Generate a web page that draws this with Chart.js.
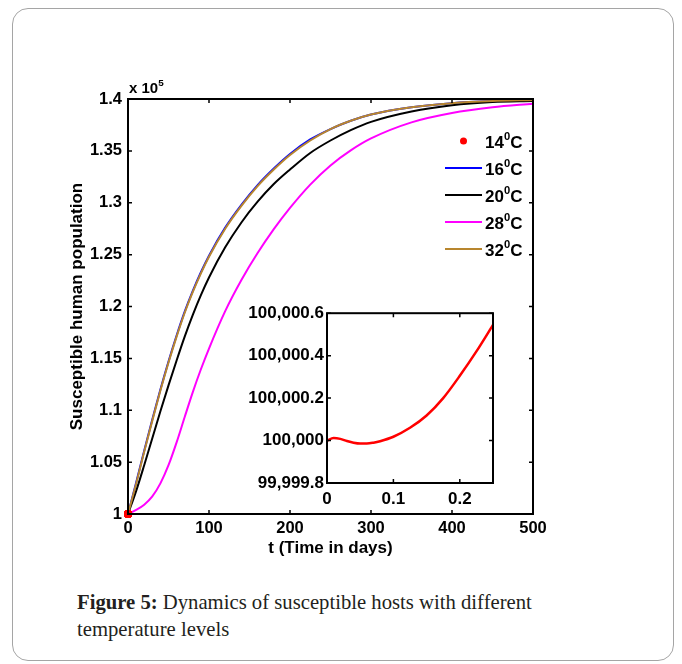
<!DOCTYPE html>
<html>
<head>
<meta charset="utf-8">
<script src="https://cdn.jsdelivr.net/npm/chart.js@4.4.1/dist/chart.umd.min.js"></script>
<style>
    body {
        margin: 0;
        background: #ffffff;
    }

    .card {
        position: absolute;
        left: 12px;
        top: 8px;
        width: 662px;
        height: 653px;
        box-sizing: border-box;
        border: 1.5px solid #a5a5a5;
        border-radius: 16px;
    }

    #main-chart {
        position: absolute;
        left: 0;
        top: 0;
    }

    #inset-chart {
        position: absolute;
        left: 230px;
        top: 300px;
    }

    .caption {
        position: absolute;
        left: 77px;
        top: 589px;
        font-family: "Liberation Serif", "Times New Roman", serif;
        font-size: 20.7px;
        line-height: 27px;
        color: #231f20;
    }
</style>
</head>
<body>
<div class="card"></div>
<canvas id="main-chart" width="682" height="570"></canvas>
<canvas id="inset-chart" width="280" height="210"></canvas>
<div class="caption"><b>Figure 5:</b> Dynamics of susceptible hosts with different<br>temperature levels</div>

<script>
"use strict";

const days = [0, 10, 20, 30, 40, 50, 60, 70, 80, 90, 100, 120, 140, 160, 180, 200, 225, 250, 275, 300, 350, 400, 450, 500];

const host16 = [1.000, 1.030, 1.061, 1.091, 1.120, 1.147, 1.172, 1.195, 1.215, 1.233, 1.249, 1.276, 1.298, 1.317, 1.333, 1.347, 1.361, 1.371, 1.379, 1.385, 1.392, 1.396, 1.398, 1.399];
const host20 = [1.000, 1.022, 1.047, 1.073, 1.099, 1.124, 1.148, 1.171, 1.192, 1.211, 1.228, 1.257, 1.281, 1.301, 1.318, 1.332, 1.348, 1.360, 1.370, 1.378, 1.388, 1.394, 1.397, 1.398];
const host28 = [1.000, 1.004, 1.009, 1.017, 1.0295, 1.047, 1.069, 1.0935, 1.1175, 1.1395, 1.1595, 1.1955, 1.2255, 1.2515, 1.2745, 1.295, 1.3175, 1.336, 1.3505, 1.362, 1.3775, 1.3865, 1.392, 1.3955];
const host32 = [1.000, 1.029, 1.060, 1.090, 1.119, 1.146, 1.171, 1.194, 1.214, 1.232, 1.248, 1.275, 1.297, 1.316, 1.332, 1.346, 1.360, 1.371, 1.379, 1.385, 1.392, 1.396, 1.398, 1.399];

// 14 graden: alleen de eerste kwart dag, zichtbaar in de inzet.
const insetDays = [0, 0.01, 0.02, 0.03, 0.04, 0.05, 0.06, 0.07, 0.08, 0.1, 0.125, 0.15, 0.175, 0.2, 0.225, 0.25];
const host14 = [100000.000, 100000.012, 100000.008, 99999.998, 99999.990, 99999.986, 99999.986, 99999.990, 99999.997, 100000.018, 100000.060, 100000.118, 100000.200, 100000.305, 100000.420, 100000.545];

const temperatures = ["14", "16", "20", "28", "32"];
const seriesColors = ["#ff0000", "#0000ff", "#000000", "#ff00ff", "#b8862e"];

const mainXTicks = [0, 100, 200, 300, 400, 500];
const mainXLabels = ["0", "100", "200", "300", "400", "500"];
const mainYTicks = [1, 1.05, 1.1, 1.15, 1.2, 1.25, 1.3, 1.35, 1.4];
const mainYLabels = ["1", "1.05", "1.1", "1.15", "1.2", "1.25", "1.3", "1.35", "1.4"];

const insetXTicks = [0, 0.1, 0.2];
const insetXLabels = ["0", "0.1", "0.2"];
const insetYTicks = [99999.8, 100000, 100000.2, 100000.4, 100000.6];
const insetYLabels = ["99,999.8", "100,000", "100,000.2", "100,000.4", "100,000.6"];

const fontFamily = "'Liberation Sans', Arial, sans-serif";
Chart.defaults.font.family = fontFamily;
Chart.defaults.font.weight = "bold";
Chart.defaults.color = "#000000";

function toPoints(xs, ys, scale) {
    return xs.map((x, i) => ({ x: x, y: ys[i] / scale }));
}

// Kader rond het plotgebied met naar binnen wijzende streepjes op alle vier de zijden (MATLAB-stijl).
const matlabBox = {
    id: "matlabBox",
    afterDatasetsDraw(chart, args, opts) {
        const ctx = chart.ctx;
        const a = chart.chartArea;
        const x = chart.scales.x;
        const y = chart.scales.y;

        ctx.save();
        ctx.strokeStyle = "#000000";
        ctx.lineWidth = 1.5;
        ctx.beginPath();
        x.ticks.forEach((t) => {
            const px = x.getPixelForValue(t.value);
            ctx.moveTo(px, a.bottom);
            ctx.lineTo(px, a.bottom - opts.tick);
            ctx.moveTo(px, a.top);
            ctx.lineTo(px, a.top + opts.tick);
        });
        y.ticks.forEach((t) => {
            const py = y.getPixelForValue(t.value);
            ctx.moveTo(a.left, py);
            ctx.lineTo(a.left + opts.tick, py);
            ctx.moveTo(a.right, py);
            ctx.lineTo(a.right - opts.tick, py);
        });
        ctx.stroke();

        ctx.lineWidth = opts.lineWidth;
        ctx.strokeRect(a.left, a.top, a.right - a.left, a.bottom - a.top);
        ctx.restore();
    }
};

// Tekst met een superscript, zoals 14^0C en x 10^5.
function drawSuperText(ctx, x, y, parts, size) {
    let cursor = x;
    parts.forEach((part) => {
        const fontSize = part.sup ? size * 0.66 : size;
        ctx.font = "bold " + fontSize + "px " + fontFamily;
        ctx.fillText(part.text, cursor, part.sup ? y - size * 0.45 : y);
        cursor += ctx.measureText(part.text).width;
    });
}

// Eigen legenda en de vermenigvuldigingsfactor boven de y-as.
const figureLegend = {
    id: "figureLegend",
    afterDraw(chart, args, opts) {
        const ctx = chart.ctx;
        const a = chart.chartArea;

        ctx.save();
        ctx.fillStyle = "#000000";
        ctx.textBaseline = "alphabetic";
        drawSuperText(ctx, a.left + 1, a.top - 6, [{ text: "x 10" }, { text: "5", sup: true }], 15);

        chart.data.datasets.forEach((ds, i) => {
            const rowY = opts.top + i * opts.rowGap;
            if (ds.showLine === false) {
                ctx.fillStyle = ds.pointBackgroundColor;
                ctx.beginPath();
                ctx.arc(opts.lineLeft + opts.lineWidth / 2, rowY, 3.5, 0, Math.PI * 2);
                ctx.fill();
            } else {
                ctx.strokeStyle = ds.borderColor;
                ctx.lineWidth = 2;
                ctx.beginPath();
                ctx.moveTo(opts.lineLeft, rowY);
                ctx.lineTo(opts.lineLeft + opts.lineWidth, rowY);
                ctx.stroke();
            }
            ctx.fillStyle = "#000000";
            drawSuperText(ctx, opts.textLeft, rowY + 7, [{ text: temperatures[i] }, { text: "0", sup: true }, { text: "C" }], 17);
        });
        ctx.restore();
    }
};

const lineSeries = [host16, host20, host28, host32];

// Lagere "order" wordt later (bovenop) getekend: goud over blauw, rode stip bovenaan.
const mainDatasets = [
    {
        label: temperatures[0] + "°C",
        data: toPoints(insetDays, host14, 100000),
        showLine: false,
        pointRadius: 4,
        pointBorderWidth: 0,
        pointBackgroundColor: seriesColors[0],
        borderColor: seriesColors[0],
        clip: false,
        order: 0
    }
].concat(lineSeries.map((values, i) => ({
    label: temperatures[i + 1] + "°C",
    data: toPoints(days, values, 1),
    borderColor: seriesColors[i + 1],
    borderWidth: 2,
    pointRadius: 0,
    cubicInterpolationMode: "monotone",
    order: lineSeries.length - i
})));

new Chart(document.getElementById("main-chart"), {
    type: "line",
    data: { datasets: mainDatasets },
    options: {
        responsive: false,
        animation: false,
        events: [],
        layout: {
            padding: { left: 0, top: 99, right: 149, bottom: 0 }
        },
        scales: {
            x: {
                type: "linear",
                min: 0,
                max: 500,
                afterBuildTicks(scale) {
                    scale.ticks = mainXTicks.map((v) => ({ value: v }));
                },
                afterFit(scale) {
                    scale.height = 56;
                },
                ticks: {
                    font: { size: 16.5 },
                    padding: 5,
                    maxRotation: 0,
                    callback: (value, index) => mainXLabels[index]
                },
                grid: { display: false, drawTicks: false },
                border: { display: false },
                title: {
                    display: true,
                    text: "t (Time in days)",
                    font: { size: 17 },
                    padding: { top: 0, bottom: 11.5 }
                }
            },
            y: {
                type: "linear",
                min: 1,
                max: 1.4,
                afterBuildTicks(scale) {
                    scale.ticks = mainYTicks.map((v) => ({ value: v }));
                },
                afterFit(scale) {
                    scale.width = 128;
                },
                ticks: {
                    font: { size: 16.5 },
                    padding: 6,
                    callback: (value, index) => mainYLabels[index]
                },
                grid: { display: false, drawTicks: false },
                border: { display: false },
                title: {
                    display: true,
                    text: "Susceptible human population",
                    font: { size: 17 },
                    padding: { top: 67, bottom: 0 }
                }
            }
        },
        plugins: {
            legend: { display: false },
            tooltip: { enabled: false },
            matlabBox: { lineWidth: 2, tick: 4 },
            figureLegend: { top: 141, rowGap: 27, lineLeft: 445, lineWidth: 37, textLeft: 485 }
        }
    },
    plugins: [matlabBox, figureLegend]
});

// Inzet: de 14 graden curve op de eerste kwart dag.
new Chart(document.getElementById("inset-chart"), {
    type: "line",
    data: {
        datasets: [{
            label: temperatures[0] + "°C",
            data: toPoints(insetDays, host14, 1),
            borderColor: seriesColors[0],
            borderWidth: 2.5,
            pointRadius: 0,
            cubicInterpolationMode: "monotone"
        }]
    },
    options: {
        responsive: false,
        animation: false,
        events: [],
        layout: {
            padding: { left: 0, top: 11, right: 17, bottom: 0 }
        },
        scales: {
            x: {
                type: "linear",
                min: 0,
                max: 0.25,
                afterBuildTicks(scale) {
                    scale.ticks = insetXTicks.map((v) => ({ value: v }));
                },
                afterFit(scale) {
                    scale.height = 27;
                },
                ticks: {
                    font: { size: 17 },
                    padding: 6,
                    maxRotation: 0,
                    callback: (value, index) => insetXLabels[index]
                },
                grid: { display: false, drawTicks: false },
                border: { display: false }
            },
            y: {
                type: "linear",
                min: 99999.8,
                max: 100000.6,
                afterBuildTicks(scale) {
                    scale.ticks = insetYTicks.map((v) => ({ value: v }));
                },
                afterFit(scale) {
                    scale.width = 97;
                },
                ticks: {
                    font: { size: 17 },
                    padding: 3,
                    callback: (value, index) => insetYLabels[index]
                },
                grid: { display: false, drawTicks: false },
                border: { display: false }
            }
        },
        plugins: {
            legend: { display: false },
            tooltip: { enabled: false },
            matlabBox: { lineWidth: 2, tick: 4 }
        }
    },
    plugins: [matlabBox]
});
</script>
</body>
</html>
